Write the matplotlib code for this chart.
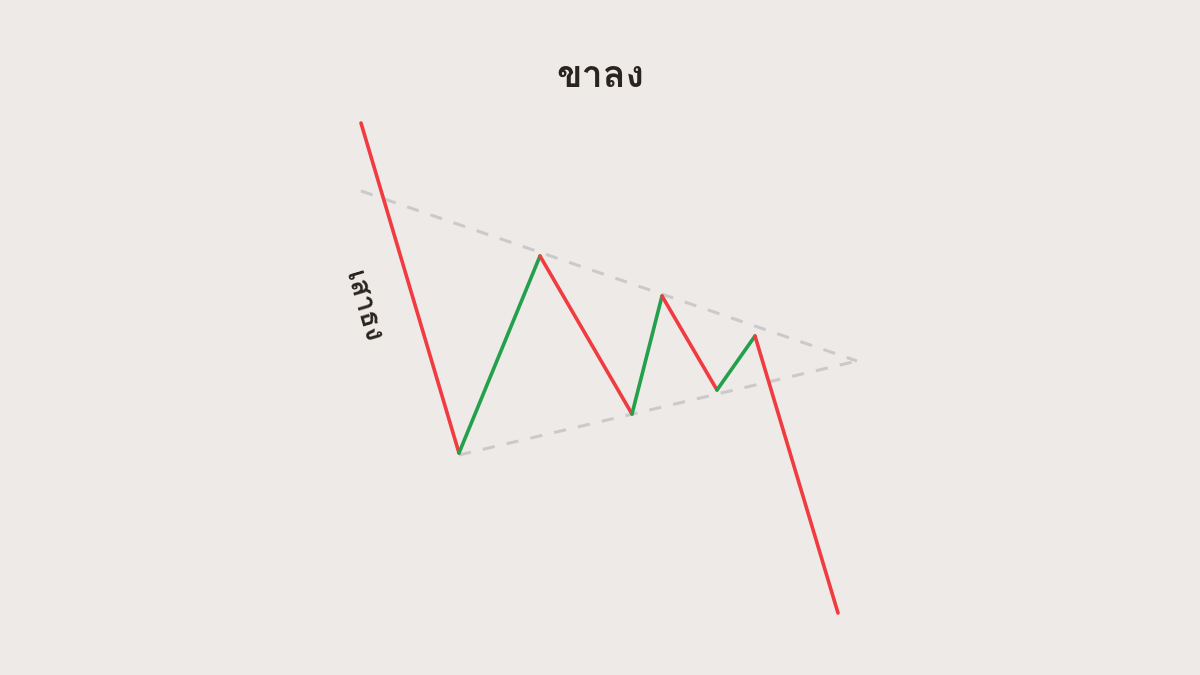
import matplotlib
matplotlib.use("Agg")
import matplotlib.pyplot as plt
from matplotlib import font_manager
from matplotlib.ft2font import FT2Font
import numpy as np

# price path (x = time, y = price), pattern = bearish pennant
path_x = [361, 459, 540, 632, 662, 717, 755, 838]
path_y = [123, 453, 256, 414, 296, 390, 336, 613]
# segment colours: down = red, up = green
seg_up = [False, True, False, True, False, True, False]

# converging trend lines
upper_x = [361, 857]
upper_y = [191, 361]
lower_x = [459, 857]
lower_y = [455, 361]

title = "ขาลง"
pole_label = "เสาธง"

BG = "#EEEAE7"
RED = "#F03B40"
GREEN = "#23A04B"
DASH = "#CBCACA"
INK = "#2A241F"


def find_thai_font():
    """look for an installed upright font that actually has Thai glyphs"""
    for path in font_manager.findSystemFonts():
        name = path.lower()
        if "oblique" in name or "italic" in name:
            continue
        try:
            cmap = FT2Font(path).get_charmap()
        except Exception:
            continue
        if 0x0E02 in cmap and 0x0E07 in cmap:
            bold = "bold" in name
            yield bold, path


fonts = sorted(find_thai_font(), key=lambda t: (not t[0], t[1]))
if fonts:
    thai_bold = font_manager.FontProperties(fname=fonts[0][1])
else:
    thai_bold = font_manager.FontProperties(family="DejaVu Sans", weight="bold")

fig = plt.figure(figsize=(12, 6.75), dpi=100, facecolor=BG)
ax = fig.add_axes([0, 0, 1, 1])
ax.set_facecolor(BG)
ax.set_xlim(0, 1200)
ax.set_ylim(675, 0)
ax.axis("off")

ax.plot(upper_x, upper_y, color=DASH, lw=2.2, ls=(0, (4, 4)))
ax.plot(lower_x, lower_y, color=DASH, lw=2.2, ls=(0, (4, 4)))

for i, up in enumerate(seg_up):
    ax.plot(path_x[i:i + 2], path_y[i:i + 2], color=GREEN if up else RED,
            lw=2.6, solid_capstyle="round", solid_joinstyle="round")

ax.text(600, 77, title, fontproperties=thai_bold, fontsize=27,
        color=INK, ha="center", va="center")

angle = np.degrees(np.arctan2(path_y[1] - path_y[0], path_x[1] - path_x[0]))
ax.text(363, 307, pole_label, fontproperties=thai_bold, fontsize=20,
        color=INK, ha="center", va="center", rotation=-angle,
        rotation_mode="anchor")

fig.savefig("out.png", dpi=100, facecolor=BG)
